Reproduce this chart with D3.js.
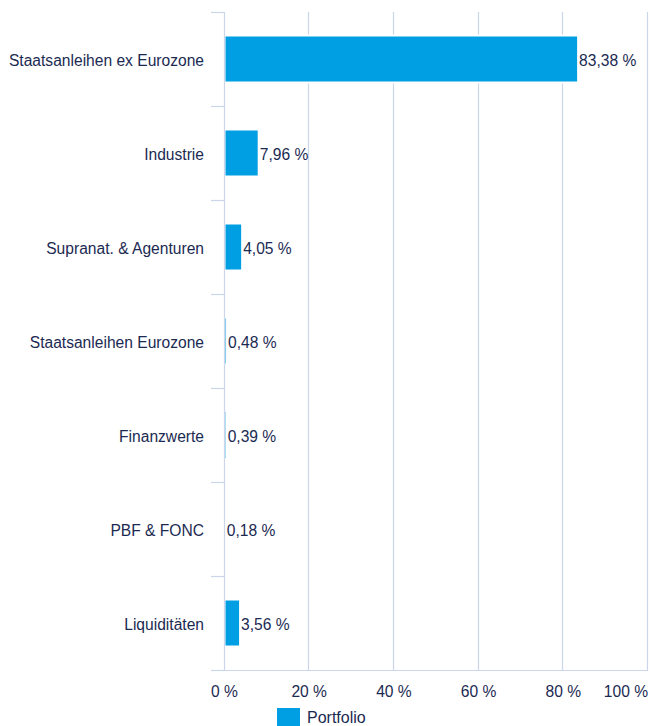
<!DOCTYPE html>
<html>
<head>
<meta charset="utf-8">
<script src="https://cdn.jsdelivr.net/npm/d3@7"></script>
<style>
  body { margin: 0; background: #fff; }
  svg { font-family: "Liberation Sans", Arial, sans-serif; }
</style>
</head>
<body>
<div id="chart"></div>
<script>
// Daten
const categories = ["Staatsanleihen ex Eurozone", "Industrie", "Supranat. & Agenturen",
  "Staatsanleihen Eurozone", "Finanzwerte", "PBF & FONC", "Liquiditäten"];
const values = [83.38, 7.96, 4.05, 0.48, 0.39, 0.18, 3.56];
const xTicks = [0, 20, 40, 60, 80, 100];
const seriesName = "Portfolio";

const W = 650, H = 726;
const margin = { top: 12, right: 2, bottom: 56, left: 224 };
const width = W - margin.left - margin.right,
      height = H - margin.top - margin.bottom;

const textColor = "#1b2a52";
const gridColor = "#ccd6eb";
const barColor = "#009fe3";
const fs = "15.6px";

const svg = d3.select("#chart").append("svg")
  .attr("width", W).attr("height", H);

const g = svg.append("g")
  .attr("transform", `translate(${margin.left},${margin.top})`);

const x = d3.scaleLinear().domain([0, 100]).range([0.5, width]);
const y = d3.scaleBand().domain(categories).range([0, height]);

// Gitterlinien
g.selectAll("line.grid")
  .data(xTicks.slice(1))
  .enter().append("line")
    .attr("class", "grid")
    .attr("x1", d => Math.round(x(d)) - 0.5).attr("x2", d => Math.round(x(d)) - 0.5)
    .attr("y1", 0).attr("y2", height)
    .attr("stroke", gridColor).attr("stroke-width", 1.2);

// Balken (mit weissem Rand wie im Original)
const barH = 47;
g.selectAll("rect.bar")
  .data(values)
  .enter().append("rect")
    .attr("class", "bar")
    .attr("x", x(0))
    .attr("y", (d, i) => y(categories[i]) + (y.bandwidth() - barH) / 2)
    .attr("width", d => Math.max(0, x(d) - x(0) + 0.5))
    .attr("height", barH)
    .attr("fill", barColor)
    .attr("stroke", "#fff").attr("stroke-width", 2);

// Y-Achse (Linie + Ticks zwischen Kategorien)
g.append("line")
  .attr("x1", 0.5).attr("x2", 0.5).attr("y1", 0).attr("y2", height)
  .attr("stroke", gridColor).attr("stroke-width", 1.2);

const boundaries = categories.map(c => y(c)).concat([height]);
g.selectAll("line.ytick")
  .data(boundaries)
  .enter().append("line")
    .attr("class", "ytick")
    .attr("x1", -13).attr("x2", 0.5)
    .attr("y1", d => d + 0.5).attr("y2", d => d + 0.5)
    .attr("stroke", gridColor).attr("stroke-width", 1.2);

// X-Achse
g.append("line")
  .attr("x1", -13).attr("x2", width).attr("y1", height + 0.5).attr("y2", height + 0.5)
  .attr("stroke", gridColor).attr("stroke-width", 1.2);

g.selectAll("text.xlabel")
  .data(xTicks)
  .enter().append("text")
    .attr("class", "xlabel")
    .attr("x", d => d === 100 ? width : x(d))
    .attr("y", height + 27)
    .attr("text-anchor", d => d === 100 ? "end" : "middle")
    .attr("fill", textColor)
    .style("font-size", fs)
    .text(d => d + " %");

// Kategorien
g.selectAll("text.ylabel")
  .data(categories)
  .enter().append("text")
    .attr("class", "ylabel")
    .attr("x", -20)
    .attr("y", d => y(d) + y.bandwidth() / 2 + 2)
    .attr("dy", "0.35em")
    .attr("text-anchor", "end")
    .attr("fill", textColor)
    .style("font-size", fs)
    .text(d => d);

// Werte
const fmt = d => d.toFixed(2).replace(".", ",") + " %";
g.selectAll("text.val")
  .data(values)
  .enter().append("text")
    .attr("class", "val")
    .attr("x", d => x(d) + 1.5)
    .attr("y", (d, i) => y(categories[i]) + y.bandwidth() / 2 + 2)
    .attr("dy", "0.35em")
    .attr("fill", textColor)
    .style("font-size", fs)
    .text(fmt);

// Legende
const leg = svg.append("g").attr("transform", "translate(277,708)");
leg.append("rect").attr("width", 23).attr("height", 18).attr("fill", barColor);
leg.append("text").attr("x", 30).attr("y", 15)
  .attr("fill", textColor).style("font-size", "16px").text(seriesName);
</script>
</body>
</html>
